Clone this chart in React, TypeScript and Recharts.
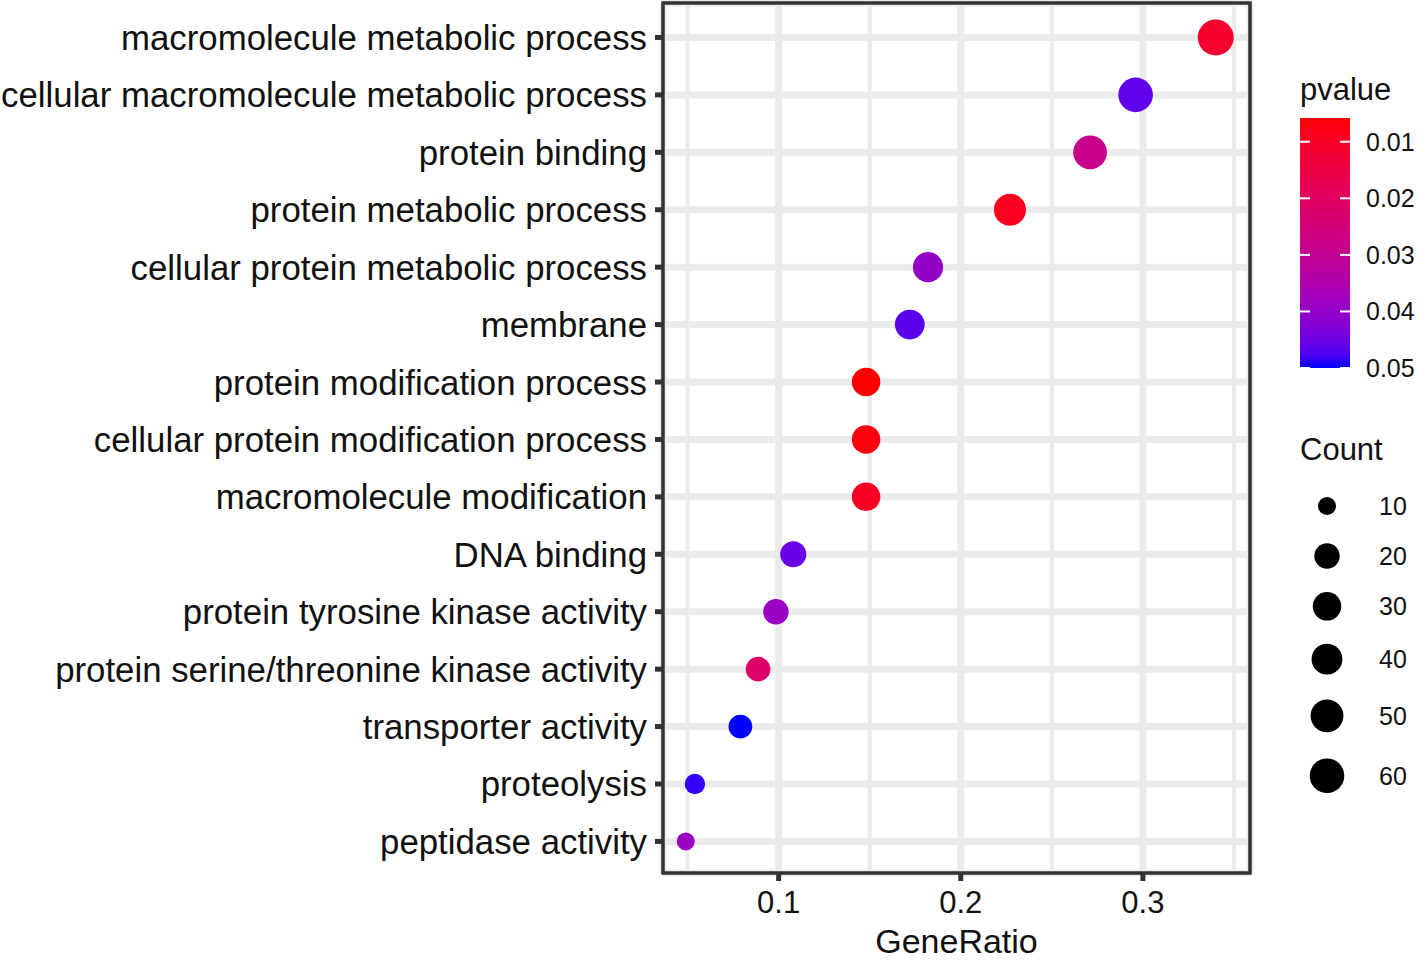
import React from "react";
import {
  CartesianGrid,
  ReferenceArea,
  Scatter,
  ScatterChart,
  XAxis,
  YAxis,
} from "recharts";

// GO terms, listed top to bottom
const TERMS = [
  "macromolecule metabolic process",
  "cellular macromolecule metabolic process",
  "protein binding",
  "protein metabolic process",
  "cellular protein metabolic process",
  "membrane",
  "protein modification process",
  "cellular protein modification process",
  "macromolecule modification",
  "DNA binding",
  "protein tyrosine kinase activity",
  "protein serine/threonine kinase activity",
  "transporter activity",
  "proteolysis",
  "peptidase activity",
];
const GENE_RATIO = [
  0.34, 0.296, 0.271, 0.227, 0.182, 0.172, 0.148, 0.148, 0.148, 0.108, 0.0985,
  0.0887, 0.079, 0.054, 0.049,
];
const COUNTS = [69, 60, 55, 46, 37, 35, 30, 30, 30, 22, 20, 18, 16, 11, 10];
const PVALUES = [
  0.011, 0.0462, 0.0285, 0.0085, 0.0398, 0.0468, 0.0058, 0.0067, 0.0093, 0.0455,
  0.0392, 0.0215, 0.05, 0.0488, 0.0388,
];

const X_TICKS = [0.1, 0.2, 0.3];
const X_MINOR = [0.05, 0.15, 0.25, 0.35];
const X_DOMAIN: [number, number] = [0.0365, 0.3588];
const Y_DOMAIN: [number, number] = [0.45, 15.6];
const P_BREAKS = [0.01, 0.02, 0.03, 0.04, 0.05];
const COUNT_BREAKS = [10, 20, 30, 40, 50, 60];

const FONT = '"Liberation Sans", Arial, sans-serif';
const TEXT = "#111111";
const DARK = "#333333";
const GRID = "#ebebeb";

// ---- colour scale: red (low p) -> blue (high p), interpolated in CIELAB like ggplot
const toLin = (c: number) => {
  c /= 255;
  return c <= 0.04045 ? c / 12.92 : Math.pow((c + 0.055) / 1.055, 2.4);
};
const fromLin = (c: number) => {
  const v = c <= 0.0031308 ? 12.92 * c : 1.055 * Math.pow(c, 1 / 2.4) - 0.055;
  return Math.round(Math.min(1, Math.max(0, v)) * 255);
};
const WHITE = [0.95047, 1, 1.08883];
const f = (t: number) => (t > 216 / 24389 ? Math.cbrt(t) : (24389 / 27 * t + 16) / 116);
const finv = (t: number) => (t ** 3 > 216 / 24389 ? t ** 3 : (116 * t - 16) / (24389 / 27));

function rgbToLab([r, g, b]: number[]) {
  const R = toLin(r), G = toLin(g), B = toLin(b);
  const X = 0.4124 * R + 0.3576 * G + 0.1805 * B;
  const Y = 0.2126 * R + 0.7152 * G + 0.0722 * B;
  const Z = 0.0193 * R + 0.1192 * G + 0.9505 * B;
  const fx = f(X / WHITE[0]), fy = f(Y / WHITE[1]), fz = f(Z / WHITE[2]);
  return [116 * fy - 16, 500 * (fx - fy), 200 * (fy - fz)];
}

function labToHex([L, a, b]: number[]) {
  const fy = (L + 16) / 116;
  const fx = fy + a / 500;
  const fz = fy - b / 200;
  const X = finv(fx) * WHITE[0], Y = finv(fy) * WHITE[1], Z = finv(fz) * WHITE[2];
  const R = 3.2406 * X - 1.5372 * Y - 0.4986 * Z;
  const G = -0.9689 * X + 1.8758 * Y + 0.0415 * Z;
  const B = 0.0557 * X - 0.204 * Y + 1.057 * Z;
  return "#" + [R, G, B].map((c) => fromLin(c).toString(16).padStart(2, "0")).join("");
}

const LOW = rgbToLab([255, 0, 0]);
const HIGH = rgbToLab([0, 0, 255]);
const P_MIN = Math.min(...PVALUES);
const P_MAX = Math.max(...PVALUES);

function pColor(p: number) {
  const t = Math.min(1, Math.max(0, (p - P_MIN) / (P_MAX - P_MIN)));
  return labToHex(LOW.map((v, i) => v + (HIGH[i] - v) * t));
}

// ---- size scale (area style, like scale_size)
const C_MIN = Math.min(...COUNTS);
const C_MAX = Math.max(...COUNTS);
const D_MIN = 18;
const D_MAX = 36;
const diameter = (c: number) =>
  D_MIN + (D_MAX - D_MIN) * Math.sqrt(Math.max(0, (c - C_MIN) / (C_MAX - C_MIN)));

const data = TERMS.map((term, i) => ({
  term,
  pos: TERMS.length - i,
  ratio: GENE_RATIO[i],
  count: COUNTS[i],
  pvalue: PVALUES[i],
}));

const labelFor = (v: number) => TERMS[TERMS.length - v] ?? "";

const YTick = (props: any) => {
  const { x, y, payload } = props;
  return (
    <text
      x={x}
      y={y}
      textAnchor="end"
      dominantBaseline="central"
      fontSize={34.8}
      fontFamily={FONT}
      fill={TEXT}
    >
      {labelFor(payload.value)}
    </text>
  );
};

const Dot = (props: any) => {
  const { cx, cy, payload } = props;
  if (cx == null || cy == null) return null;
  return (
    <circle cx={cx} cy={cy} r={diameter(payload.count) / 2} fill={pColor(payload.pvalue)} />
  );
};

function Legends() {
  const barX = 1300, barY = 118, barW = 50, barH = 250;
  const stops = Array.from({ length: 21 }, (_, i) => i / 20);
  const pY = (p: number) => barY + ((p - P_MIN) / (P_MAX - P_MIN)) * barH;

  // size legend keys: key height grows with point size
  const keyH = (c: number) => Math.max(50, 1.78 * diameter(c));
  const keyY: number[] = [];
  COUNT_BREAKS.forEach((c, i) => {
    if (i === 0) keyY.push(506);
    else keyY.push(keyY[i - 1] + (keyH(COUNT_BREAKS[i - 1]) + keyH(c)) / 2);
  });

  return (
    <svg
      width={1418}
      height={960}
      style={{ position: "absolute", left: 0, top: 0, pointerEvents: "none" }}
    >
      <defs>
        <linearGradient id="pgrad" x1="0" y1="0" x2="0" y2="1">
          {stops.map((t) => (
            <stop key={t} offset={t} stopColor={pColor(P_MIN + t * (P_MAX - P_MIN))} />
          ))}
        </linearGradient>
      </defs>
      <text x={barX} y={100} fontSize={31} fontFamily={FONT} fill={TEXT}>
        pvalue
      </text>
      <rect x={barX} y={barY} width={barW} height={barH} fill="url(#pgrad)" />
      {P_BREAKS.map((p) => (
        <g key={p}>
          <line x1={barX} x2={barX + 10} y1={pY(p)} y2={pY(p)} stroke="#fff" strokeWidth={2} />
          <line
            x1={barX + barW - 10}
            x2={barX + barW}
            y1={pY(p)}
            y2={pY(p)}
            stroke="#fff"
            strokeWidth={2}
          />
          <text
            x={1366}
            y={pY(p)}
            dominantBaseline="central"
            fontSize={25}
            fontFamily={FONT}
            fill={TEXT}
          >
            {p.toFixed(2)}
          </text>
        </g>
      ))}

      <text x={barX} y={460} fontSize={31} fontFamily={FONT} fill={TEXT}>
        Count
      </text>
      {COUNT_BREAKS.map((c, i) => (
        <g key={c}>
          <circle cx={1327} cy={keyY[i]} r={diameter(c) / 2} fill="#000" />
          <text
            x={1379}
            y={keyY[i]}
            dominantBaseline="central"
            fontSize={25}
            fontFamily={FONT}
            fill={TEXT}
          >
            {c}
          </text>
        </g>
      ))}
    </svg>
  );
}

export default function App() {
  return (
    <div
      style={{
        position: "absolute",
        left: 0,
        top: 0,
        width: 1418,
        height: 960,
        background: "#fff",
        fontFamily: FONT,
      }}
    >
      <ScatterChart
        width={1418}
        height={960}
        margin={{ top: 3, right: 168, bottom: 0, left: 0 }}
      >
        <XAxis
          xAxisId="minor"
          type="number"
          dataKey="ratio"
          domain={X_DOMAIN}
          ticks={X_MINOR}
          allowDataOverflow
          hide
        />
        <CartesianGrid
          xAxisId="minor"
          horizontal={false}
          stroke={GRID}
          strokeWidth={4}
        />
        <CartesianGrid stroke={GRID} strokeWidth={7} />
        <XAxis
          type="number"
          dataKey="ratio"
          domain={X_DOMAIN}
          ticks={X_TICKS}
          interval={0}
          allowDataOverflow
          height={87}
          axisLine={false}
          tickSize={8}
          tickMargin={10}
          tickLine={{ stroke: DARK, strokeWidth: 5 }}
          tick={{ fill: TEXT, fontSize: 31, fontFamily: FONT }}
          tickFormatter={(v: number) => String(v)}
          label={{
            value: "GeneRatio",
            position: "insideBottom",
            offset: 7,
            fill: TEXT,
            fontSize: 34,
            fontFamily: FONT,
          }}
        />
        <YAxis
          type="number"
          dataKey="pos"
          domain={Y_DOMAIN}
          ticks={TERMS.map((_, i) => i + 1)}
          interval={0}
          allowDataOverflow
          width={663}
          axisLine={false}
          tickSize={8}
          tickMargin={8}
          tickLine={{ stroke: DARK, strokeWidth: 5 }}
          tick={<YTick />}
        />
        <Scatter data={data} shape={<Dot />} isAnimationActive={false} />
        <ReferenceArea
          x1={X_DOMAIN[0]}
          x2={X_DOMAIN[1]}
          y1={Y_DOMAIN[0]}
          y2={Y_DOMAIN[1]}
          fill="none"
          stroke={DARK}
          strokeWidth={3.5}
          ifOverflow="visible"
        />
      </ScatterChart>
      <Legends />
    </div>
  );
}
